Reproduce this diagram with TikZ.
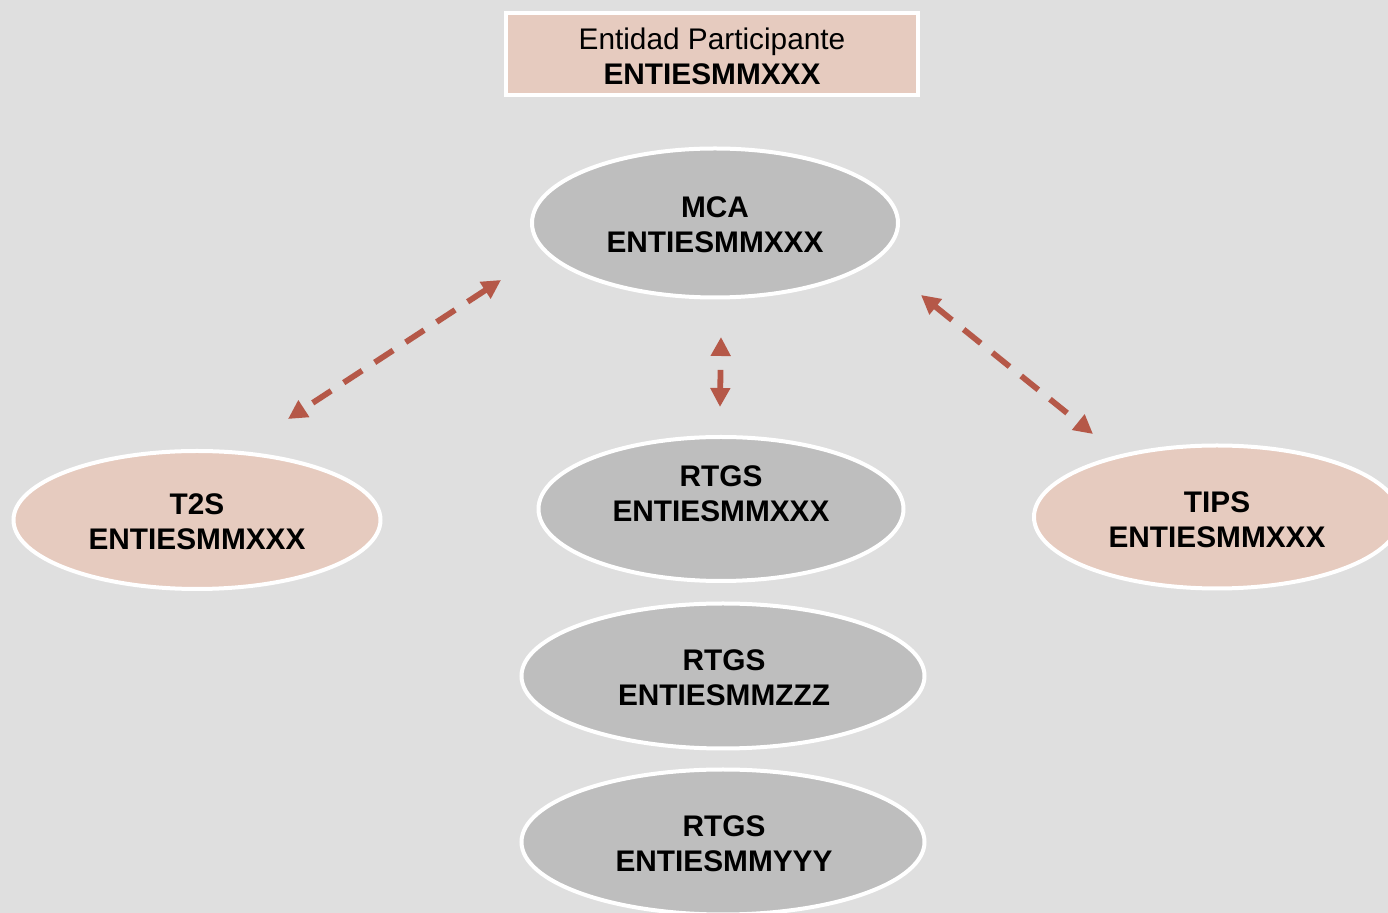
\documentclass[tikz,border=0pt]{standalone}
\usepackage{fontspec}
\setmainfont{Liberation Sans}
\usetikzlibrary{shapes.geometric,arrows.meta}
\definecolor{bgc}{RGB}{223,223,223}
\definecolor{grayfill}{RGB}{190,190,190}
\definecolor{pinkfill}{RGB}{230,203,191}
\definecolor{arrowc}{RGB}{181,88,72}
\tikzset{
  ell/.style={ellipse, draw=white, line width=2pt, inner sep=0pt},
  gell/.style={ell, fill=grayfill},
  pell/.style={ell, fill=pinkfill},
  txt/.style={align=center, font=\fontsize{14.9}{17.5}\selectfont\bfseries, text=black},
  link/.style={draw=arrowc, line width=2.9pt, dash pattern=on 11pt off 7.5pt,
    {Triangle[length=9.5pt,width=9.5pt]}-{Triangle[length=9.5pt,width=9.5pt]}},
}
\begin{document}
\begin{tikzpicture}[x=0.5pt,y=-0.5pt]
\useasboundingbox (0,0) rectangle (1388,913);
\clip (0,0) rectangle (1388,913);
\fill[bgc] (0,0) rectangle (1388,913);
% top box
\node[rectangle, draw=white, line width=2pt, fill=pinkfill, minimum width=206pt, minimum height=41pt, inner sep=0pt] (ent) at (712,54) {};
\node[align=center, font=\fontsize{14.9}{17.5}\selectfont] (entt) at (712,56)
  {Entidad Participante\\\textbf{ENTIESMMXXX}};
% ellipses
\node[gell, minimum width=183pt, minimum height=74.5pt] (mca) at (715,223) {};
\node[txt] (mcat) at (715,225) {MCA\\ENTIESMMXXX};
\node[pell, minimum width=183.5pt, minimum height=69pt] (t2s) at (197,520) {};
\node[txt] (t2st) at (197,522) {T2S\\ENTIESMMXXX};
\node[gell, minimum width=182.5pt, minimum height=72pt] (rtgs1) at (721,509) {};
\node[txt] (rtgs1t) at (721,494) {RTGS\\ENTIESMMXXX};
\node[pell, minimum width=183pt, minimum height=71.5pt] (tips) at (1217,517) {};
\node[txt] (tipst) at (1217,520) {TIPS\\ENTIESMMXXX};
\node[gell, minimum width=201.5pt, minimum height=72.5pt] (rtgs2) at (723,676) {};
\node[txt] (rtgs2t) at (724,678) {RTGS\\ENTIESMMZZZ};
\node[gell, minimum width=201.5pt, minimum height=72.5pt] (rtgs3) at (723,842) {};
\node[txt] (rtgs3t) at (724,844) {RTGS\\ENTIESMMYYY};
% arrow ends
\coordinate (a1s) at (501,280);
\coordinate (a1e) at (288,419);
\coordinate (a2s) at (721,337);
\coordinate (a2e) at (720,407);
\coordinate (a3s) at (921,295);
\coordinate (a3e) at (1093,434);
\draw[link] (a1s) -- (a1e);
\draw[link, dash phase=11pt] (a2s) -- (a2e);
\draw[link] (a3s) -- (a3e);
\end{tikzpicture}
\end{document}
